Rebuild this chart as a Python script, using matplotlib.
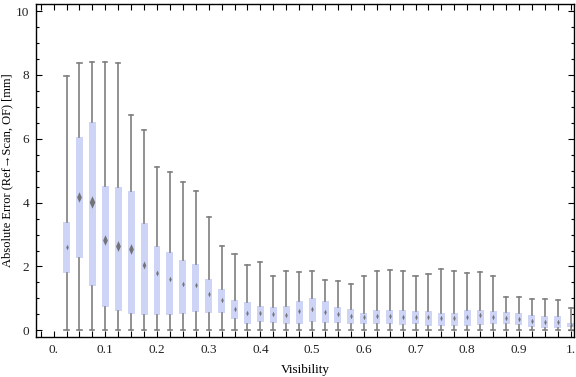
import matplotlib
matplotlib.use("Agg")
import matplotlib.pyplot as plt
import numpy as np
from matplotlib.ticker import MultipleLocator

plt.rcParams['font.family'] = ['Liberation Serif', 'DejaVu Serif']

# visibility bins (box centres)
vis = [0.025 * i for i in range(1, 41)]

w_lo = [0.0] * 40
q1 = [1.80, 2.27, 1.39, 0.73, 0.61, 0.51, 0.48, 0.48, 0.48, 0.51,
      0.57, 0.54, 0.54, 0.34, 0.20, 0.26, 0.23, 0.20, 0.20, 0.26,
      0.23, 0.23, 0.20, 0.20, 0.20, 0.20, 0.17, 0.20, 0.13, 0.13,
      0.13, 0.13, 0.17, 0.20, 0.20, 0.17, 0.10, 0.07, 0.07, 0.10]
med = [2.60, 4.16, 4.02, 2.84, 2.63, 2.55, 2.04, 1.78, 1.62, 1.45,
       1.42, 1.15, 0.94, 0.67, 0.55, 0.54, 0.51, 0.49, 0.60, 0.66,
       0.56, 0.50, 0.45, 0.42, 0.45, 0.45, 0.42, 0.42, 0.42, 0.40,
       0.39, 0.43, 0.47, 0.43, 0.39, 0.37, 0.30, 0.27, 0.27, 0.17]
q3 = [3.39, 6.05, 6.52, 4.51, 4.48, 4.36, 3.35, 2.63, 2.45, 2.19,
      2.07, 1.60, 1.29, 0.94, 0.88, 0.75, 0.72, 0.75, 0.91, 1.00,
      0.91, 0.72, 0.66, 0.53, 0.63, 0.63, 0.63, 0.60, 0.60, 0.53,
      0.53, 0.63, 0.63, 0.60, 0.56, 0.53, 0.47, 0.44, 0.44, 0.22]
w_hi = [7.95, 8.36, 8.39, 8.39, 8.36, 6.73, 6.26, 5.10, 4.97, 4.63,
        4.35, 3.56, 2.65, 2.40, 2.06, 2.15, 1.71, 1.87, 1.84, 1.87,
        1.59, 1.54, 1.46, 1.71, 1.85, 1.90, 1.87, 1.71, 1.75, 1.93,
        1.87, 1.81, 1.84, 1.71, 1.04, 1.04, 0.98, 0.98, 0.96, 0.71]

stats = []
for a, b, c, d, e in zip(w_lo, q1, med, q3, w_hi):
    stats.append(dict(whislo=a, q1=b, med=c, q3=d, whishi=e, fliers=[]))

fig = plt.figure(figsize=(5.76, 3.77), dpi=100)
ax = fig.add_axes([0.0625, 0.106, 0.9345, 0.8826])

grey = '#7f7f7f'
ax.bxp(stats, positions=vis, widths=0.0135, patch_artist=True,
       manage_ticks=False,
       boxprops=dict(facecolor='#cdd4f6', edgecolor='none', linewidth=0),
       whiskerprops=dict(color=grey, linewidth=1.2),
       capprops=dict(color=grey, linewidth=1.2),
       capwidths=0.008,
       medianprops=dict(visible=False))

# median marks: thin diamonds, larger for tall boxes
diamond = [(0, 1), (0.45, 0), (0, -1), (-0.45, 0), (0, 1)]
iqr = np.array(q3) - np.array(q1)
sizes = np.clip(iqr * 2.0, 4, 9)
for x, m, s in zip(vis, med, sizes):
    ax.plot(x, m, marker=diamond, markersize=s, color='#6a6a6a',
            markeredgewidth=0, alpha=0.9, zorder=4)

ax.set_xlim(-0.034, 1.007)
ax.set_ylim(-0.21, 10.21)

ax.xaxis.set_major_locator(MultipleLocator(0.1))
ax.xaxis.set_minor_locator(MultipleLocator(0.025))
ax.yaxis.set_major_locator(MultipleLocator(2))
ax.yaxis.set_minor_locator(MultipleLocator(0.5))

xt = np.arange(0, 1.01, 0.1)
ax.set_xticks(xt)
ax.set_xticklabels(['0.'] + ['%.1f' % v for v in xt[1:-1]] + ['1.'])

ax.tick_params(which='both', direction='in', top=True, right=True,
               labelsize=9.5, colors='black', labelcolor='#222222', pad=5)
ax.tick_params(axis='x', which='both', length=4, width=0.8)
ax.tick_params(axis='y', which='major', length=4.5, width=0.8)
ax.tick_params(axis='y', which='minor', length=2.5, width=0.8)
for sp in ax.spines.values():
    sp.set_linewidth(1.0)

ax.set_xlabel('Visibility', fontsize=9.5, labelpad=6)
ax.set_ylabel('Absolute Error (Ref\u2192Scan, OF) [mm]', fontsize=9)
ax.yaxis.set_label_coords(-0.042, 0.5)

fig.savefig('out.png', dpi=100)
